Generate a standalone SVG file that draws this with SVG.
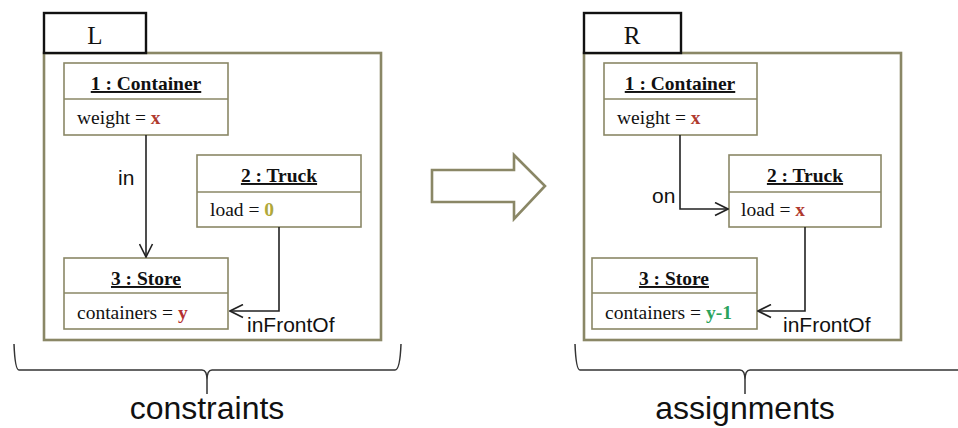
<svg xmlns="http://www.w3.org/2000/svg" width="958" height="428" viewBox="0 0 958 428">
<defs>
<marker id="open" viewBox="0 0 15 15" refX="14" refY="7.5" markerWidth="15" markerHeight="15" markerUnits="userSpaceOnUse" orient="auto">
<path d="M1,1 L14,7.5 L1,14" fill="none" stroke="#222" stroke-width="1.6"/>
</marker>
</defs>
<style>
.frame{fill:#fff;stroke:#8a8766;stroke-width:2.6}
.tab{fill:#fff;stroke:#111;stroke-width:2.4}
.box{fill:#fff;stroke:#8a8766;stroke-width:1.6}
.title{font-family:"Liberation Serif","Times New Roman",serif;font-size:19.5px;font-weight:bold;text-anchor:middle;text-decoration:underline;fill:#111}
.attr{font-family:"Liberation Serif","Times New Roman",serif;font-size:19.5px;fill:#111}
.tabt{font-family:"Liberation Serif","Times New Roman",serif;font-size:25px;text-anchor:middle;fill:#111}
.lbl{font-family:"Liberation Sans",Arial,sans-serif;font-size:21px;fill:#111}
.big{font-family:"Liberation Sans",Arial,sans-serif;font-size:32px;text-anchor:middle;fill:#111}
.edge{fill:none;stroke:#222;stroke-width:1.6}
.brace{fill:none;stroke:#333;stroke-width:1.5}
.x{fill:#b03a2e;font-weight:bold}
.y{fill:#b53030;font-weight:bold}
.z{fill:#b0a83a;font-weight:bold}
.g{fill:#2ba35c;font-weight:bold}
</style>

<g id="frameL">
<rect class="frame" x="44" y="53" width="337" height="287"/>
<rect class="tab" x="44" y="13" width="102" height="40"/>
<text class="tabt" x="95" y="44">L</text>
</g>
<g id="frameR">
<rect class="frame" x="584" y="53" width="317" height="287"/>
<rect class="tab" x="584" y="13" width="97" height="40"/>
<text class="tabt" x="632" y="44">R</text>
</g>

<g id="L-container">
<rect class="box" x="64" y="63" width="164" height="72"/>
<line class="box" x1="64" y1="99" x2="228" y2="99"/>
<text class="title" x="146" y="90">1 : Container</text>
<text class="attr" x="77" y="124">weight = <tspan class="x">x</tspan></text>
</g>
<g id="L-truck">
<rect class="box" x="197" y="155" width="164" height="72"/>
<line class="box" x1="197" y1="192" x2="361" y2="192"/>
<text class="title" x="279" y="182">2 : Truck</text>
<text class="attr" x="210" y="216">load = <tspan class="z">0</tspan></text>
</g>
<g id="L-store">
<rect class="box" x="64" y="258" width="164" height="71"/>
<line class="box" x1="64" y1="293" x2="228" y2="293"/>
<text class="title" x="146" y="285">3 : Store</text>
<text class="attr" x="77" y="319">containers = <tspan class="y">y</tspan></text>
</g>

<g id="R-container">
<rect class="box" x="604" y="63" width="153" height="72"/>
<line class="box" x1="604" y1="99" x2="757" y2="99"/>
<text class="title" x="680" y="90">1 : Container</text>
<text class="attr" x="617" y="124">weight = <tspan class="x">x</tspan></text>
</g>
<g id="R-truck">
<rect class="box" x="729" y="155" width="152" height="72"/>
<line class="box" x1="729" y1="192" x2="881" y2="192"/>
<text class="title" x="805" y="182">2 : Truck</text>
<text class="attr" x="741" y="216">load = <tspan class="x">x</tspan></text>
</g>
<g id="R-store">
<rect class="box" x="592" y="258" width="165" height="71"/>
<line class="box" x1="592" y1="293" x2="757" y2="293"/>
<text class="title" x="674" y="285">3 : Store</text>
<text class="attr" x="605" y="319">containers = <tspan class="g">y-1</tspan></text>
</g>

<g id="connectors">
<path class="edge" d="M146,135 V257" marker-end="url(#open)"/>
<text class="lbl" x="118" y="185">in</text>
<path class="edge" d="M279,227 V311 H230" marker-end="url(#open)"/>
<text class="lbl" x="247" y="332">inFrontOf</text>
<path class="edge" d="M680,135 V209 H728" marker-end="url(#open)"/>
<text class="lbl" x="652" y="203">on</text>
<path class="edge" d="M805,227 V311 H758" marker-end="url(#open)"/>
<text class="lbl" x="783" y="332">inFrontOf</text>
</g>

<g id="bigArrow">
<polygon points="432,170 514,170 514,155 545,186 514,219 514,202 432,202" fill="#fff" stroke="#8a8766" stroke-width="2.6" stroke-linejoin="miter"/>
</g>

<g id="braceL">
<path class="brace" d="M14,344 Q15,370 19,370 H202 Q207,370 207,380 V394 M207,380 Q207,370 212,370 H395 Q400,370 401,344"/>
<text class="big" x="207" y="419">constraints</text>
</g>
<g id="braceR">
<path class="brace" d="M575,344 Q576,370 580,370 H740 Q745,370 745,380 V394 M745,380 Q745,370 750,370 H960"/>
<text class="big" x="745" y="419">assignments</text>
</g>
</svg>
